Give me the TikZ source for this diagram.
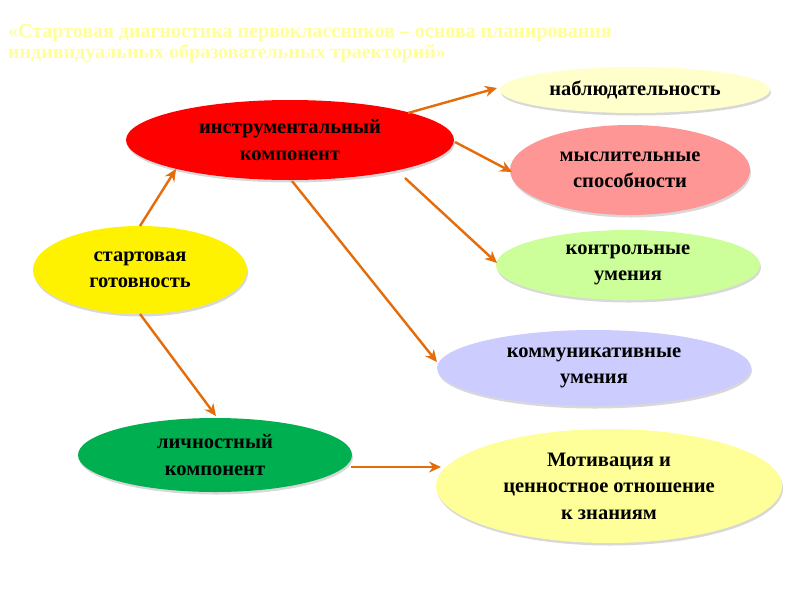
\documentclass[tikz,border=0pt]{standalone}
\usepackage{fontspec}
\setmainfont{Liberation Serif}
\usetikzlibrary{shadows,arrows.meta,shapes.geometric}
\definecolor{arr}{HTML}{E46C0A}
\definecolor{ttl}{HTML}{FFFF99}
\tikzset{
  bub/.style={ellipse, inner sep=0pt, draw=none, font=\fontsize{20.5}{26.5}\selectfont\bfseries, align=center,
    drop shadow={shadow xshift=1pt, shadow yshift=-2.5pt, opacity=0.25, fill=black!60}},
  conn/.style={draw=arr, line width=2.4pt, -{Stealth[length=12pt,width=11pt]}}
}
\begin{document}
\begin{tikzpicture}[x=1pt,y=-1pt]
\useasboundingbox[fill=white] (0,0) rectangle (800,600);
\node[anchor=north west, text=ttl, font=\fontsize{20}{21.5}\selectfont\bfseries, align=left, inner sep=0pt] (title) at (8,24)
  {«Стартовая диагностика первоклассников – основа планирования\\индивидуальных образовательных траекторий»};
\node[bub, fill=red, minimum width=328, minimum height=80] (instr) at (290,140) {инструментальный\\компонент};
\node[bub, fill={rgb,255:red,255;green,255;blue,204}, minimum width=270, minimum height=46] (nabl) at (635,90) {наблюдательность};
\node[bub, fill={rgb,255:red,255;green,150;blue,150}, minimum width=240, minimum height=90] (mysl) at (630,170) {мыслительные\\способности};
\node[bub, fill={rgb,255:red,204;green,255;blue,153}, minimum width=264, minimum height=70] (kontr) at (628,265) {контрольные\\умения};
\node[bub, fill={rgb,255:red,204;green,204;blue,255}, minimum width=314, minimum height=76] (komm) at (594,368) {коммуникативные\\умения};
\node[bub, fill={rgb,255:red,255;green,255;blue,153}, minimum width=346, minimum height=114] (motiv) at (609,486) {Мотивация и\\ценностное отношение\\к знаниям};
\node[bub, fill=yellow, minimum width=214, minimum height=88] (start) at (140,270) {стартовая\\готовность};
\node[bub, fill={rgb,255:red,0;green,176;blue,80}, minimum width=274, minimum height=74] (lich) at (215,455) {личностный\\компонент};
\coordinate (s1) at (140,226);
\coordinate (e1) at (176,169);
\coordinate (s2) at (140,314);
\coordinate (e2) at (216,416);
\coordinate (i1) at (408,113);
\coordinate (e3) at (497,88);
\coordinate (i2) at (455,142);
\coordinate (e4) at (512,172);
\coordinate (i3) at (405,178);
\coordinate (e5) at (497,263);
\coordinate (i4) at (292,181);
\coordinate (e6) at (437,362);
\coordinate (l1) at (351,467);
\coordinate (e7) at (441,467);
\draw[conn] (s1) -- (e1);
\draw[conn] (s2) -- (e2);
\draw[conn] (i1) -- (e3);
\draw[conn] (i2) -- (e4);
\draw[conn] (i3) -- (e5);
\draw[conn] (i4) -- (e6);
\draw[conn] (l1) -- (e7);
\end{tikzpicture}
\end{document}
